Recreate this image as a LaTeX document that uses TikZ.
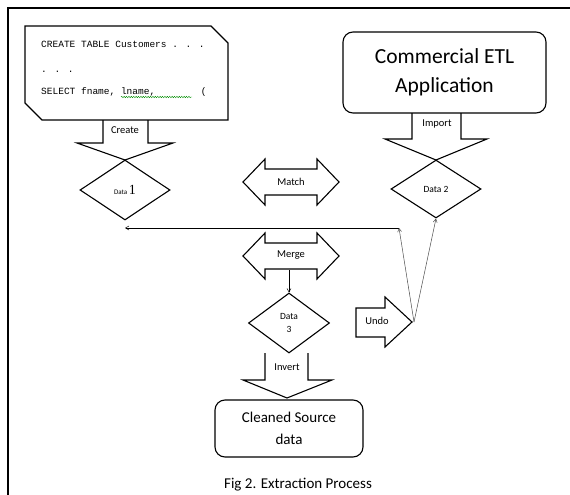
\documentclass[tikz,border=0pt]{standalone}
\usepackage{fontspec}
\setmainfont{Carlito}
\newfontfamily\codefont{Liberation Mono}
\newfontfamily\numfont{Liberation Serif}
\usetikzlibrary{shapes.geometric,arrows,positioning,decorations.pathmorphing}

\begin{document}
\begin{tikzpicture}[x=1pt, y=-1pt, >=angle 60,
    box/.style={draw, line width=1.1pt, rounded corners=10pt, align=center,
      font=\fontsize{15}{22}\selectfont},
    data/.style={diamond, draw, line width=1.1pt, inner sep=0pt,
      minimum width=90pt, minimum height=60pt, align=center},
    blk/.style={draw, line width=1.1pt, line join=miter},
    lbl/.style={font=\fontsize{10.5}{12}\selectfont, inner sep=0pt},
    code/.style={anchor=base west, inner sep=0pt, font=\codefont\fontsize{9.5}{11}\selectfont},
    link/.style={->, line width=0.5pt},
    dblarrow/.pic={\draw[blk] (-48,0) -- (-26,-23) -- (-26,-13) -- (26,-13) -- (26,-23)
      -- (48,0) -- (26,23) -- (26,13) -- (-26,13) -- (-26,23) -- cycle;}]

  \useasboundingbox (0,0) rectangle (570,495);
  \draw[line width=1.2pt] (570,8) -- (8,8) -- (8,495);

  % script box
  \draw[blk] (25,26) -- (211,26) -- (228,43) -- (228,120) -- (42,120) -- (25,103) -- cycle;
  \node[code] (sql1) at (41,48) {CREATE TABLE Customers . . .};
  \node[code] (sql2) at (41,73) {. . .};
  \node[code] (sql3) at (41,94) {SELECT fname, lname,\phantom{00000000}(};
  \draw[green!55!black, decorate, decoration={snake, amplitude=0.7pt, segment length=2.4pt}]
    (121,97) -- (192,97);

  \node[box, minimum width=203pt, minimum height=81pt,
    font=\fontsize{21.5}{29}\selectfont] (etl) at (444.5,72.5) {Commercial ETL\\Application};

  % create / import
  \draw[blk] (103,120) -- (103,143) -- (77,143) -- (125,160) -- (173,143) -- (148,143) -- (148,120);
  \node[lbl] (create) at (125,130) {Create};
  \draw[blk] (412,113) -- (412,139) -- (385,139) -- (436,160) -- (487,139) -- (461,139) -- (461,113);
  \node[lbl] (import) at (437,124) {Import};

  \node[data] (data1) at (125,190)
    {\fontsize{7}{8}\selectfont Data \numfont\fontsize{14}{16}\selectfont 1};
  \node[data, minimum height=58pt] (data2) at (436,189) {\fontsize{9.5}{11}\selectfont Data 2};

  \pic at (291,182) {dblarrow};
  \node[lbl] (match) at (291,182) {Match};
  \pic at (291,256) {dblarrow};
  \node[lbl] (merge) at (291,255) {Merge};

  \node[data, minimum width=81pt, font=\fontsize{9.5}{13}\selectfont] (data3) at (289,323) {Data\\3};

  % undo
  \draw[blk] (356,308) -- (385,308) -- (385,297) -- (412,322) -- (385,347) -- (385,337) -- (356,337) -- cycle;
  \node[lbl] (undo) at (377,321) {Undo};

  % invert
  \draw[blk] (265,353) -- (265,380) -- (243,380) -- (287,398) -- (332,380) -- (308,380) -- (308,353);
  \node[lbl] (invert) at (287,367) {Invert};

  \node[box, minimum width=148pt, minimum height=57pt] (clean) at (289,428.5) {Cleaned Source\\data};

  \node[font=\fontsize{15}{18}\selectfont, inner sep=0pt] (caption) at (298,485) {Fig 2. Extraction Process};

  % connectors
  \coordinate (mergeout) at (289,270);
  \coordinate (fork) at (414,322);
  \coordinate (joint) at (399,228);
  \draw[link] (mergeout) -- (data3.north);
  \draw[link] (joint) -- (joint -| data1.south);
  \draw[link, gray!60!black] (fork) -- (joint);
  \draw[link, gray!60!black] (fork) -- (data2.south);
\end{tikzpicture}
\end{document}
